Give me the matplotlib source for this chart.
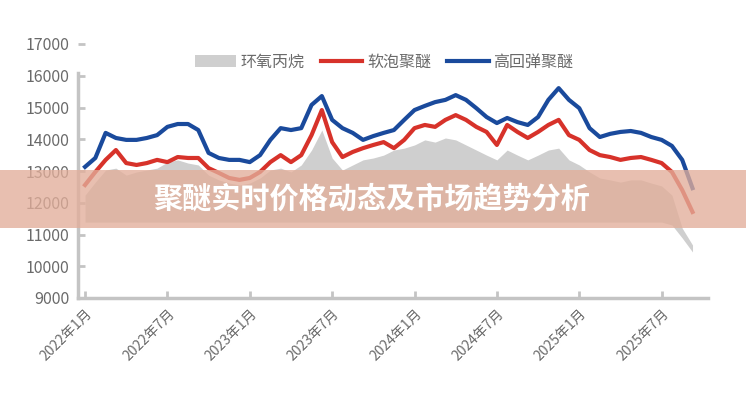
import matplotlib
matplotlib.use("Agg")
import matplotlib.pyplot as plt
from matplotlib.patches import Rectangle

plt.rcParams['font.family'] = ['Noto Sans CJK SC', 'DejaVu Sans']

# series values (元/吨), one value per period
blue_vals = [13130, 13410, 14200, 14040, 13980, 13980, 14040, 14130, 14390, 14480,
             14480, 14290, 13570, 13410, 13350, 13350, 13280, 13500, 13980, 14350,
             14290, 14350, 15080, 15360, 14610, 14350, 14200, 13980, 14100, 14200,
             14290, 14610, 14920, 15050, 15170, 15240, 15390, 15240, 14980, 14700,
             14510, 14670, 14540, 14450, 14700, 15240, 15610, 15240, 14980, 14350,
             14070, 14170, 14230, 14260, 14200, 14070, 13980, 13790, 13350, 12460]
red_vals = [12560, 12970, 13350, 13660, 13250, 13190, 13250, 13350, 13280, 13440,
            13410, 13410, 13090, 12940, 12780, 12720, 12780, 12970, 13280, 13500,
            13280, 13500, 14130, 14920, 13910, 13440, 13600, 13720, 13820, 13910,
            13720, 13980, 14350, 14450, 14390, 14610, 14760, 14610, 14390, 14230,
            13820, 14450, 14230, 14040, 14230, 14450, 14610, 14130, 13980, 13660,
            13500, 13440, 13350, 13410, 13440, 13350, 13250, 12970, 12400, 11710]
gray_high = [12240, 12650, 13030, 13090, 12870, 12970, 13030, 13090, 13280, 13350,
             13250, 13190, 12870, 12720, 12620, 12560, 12620, 12780, 13030, 13090,
             12970, 13190, 13660, 14290, 13410, 13030, 13190, 13350, 13410, 13500,
             13660, 13720, 13820, 13980, 13910, 14040, 13980, 13820, 13660, 13500,
             13350, 13660, 13500, 13350, 13500, 13660, 13720, 13350, 13190, 12970,
             12780, 12720, 12650, 12720, 12720, 12620, 12530, 12240, 11200, 10670]
gray_low = [11390] * 57 + [11300, 10890, 10450]

series_names = ['环氧丙烷', '软泡聚醚', '高回弹聚醚']
tick_pos = [0, 8, 16, 24, 32, 40, 48, 56]
tick_labels = ['2022年1月', '2022年7月', '2023年1月', '2023年7月',
               '2024年1月', '2024年7月', '2025年1月', '2025年7月']
y_ticks = [9000, 10000, 11000, 12000, 13000, 14000, 15000, 16000, 17000]
title_text = '聚醚实时价格动态及市场趋势分析'

x = list(range(len(blue_vals)))

fig = plt.figure(figsize=(7.46, 4.0), dpi=100)
ax = fig.add_axes([0.1046, 0.255, 0.8444, 0.635])

ax.fill_between(x, gray_low, gray_high, color='#cfcfcf', lw=0, label=series_names[0], zorder=1)
ax.plot(x, red_vals, color='#d7322a', lw=3, label=series_names[1], zorder=3)
ax.plot(x, blue_vals, color='#1a4a9c', lw=3, label=series_names[2], zorder=3)

ax.set_xlim(-0.68, 60.5)
ax.set_ylim(9000, 17000)
ax.set_yticks(y_ticks)
ax.set_xticks(tick_pos)
ax.set_xticklabels(tick_labels, rotation=45, ha='right', rotation_mode='anchor')

for side in ['top', 'right']:
    ax.spines[side].set_visible(False)
for side in ['left', 'bottom']:
    ax.spines[side].set_color('#c4c4c4')
    ax.spines[side].set_linewidth(2.5)
ax.spines['left'].set_bounds(9000, 16100)

ax.tick_params(axis='both', direction='in', length=5, width=2, color='#c4c4c4',
               labelcolor='#6a6a6a')
ax.tick_params(axis='y', labelsize=11.5, pad=6)
ax.tick_params(axis='x', labelsize=10, pad=6)

fig.legend(loc='center', bbox_to_anchor=(384 / 746, 1 - 62 / 400), ncol=3,
           frameon=False, fontsize=11.5, handlelength=2.6, handletextpad=0.3,
           columnspacing=1.0, labelcolor='#6a6a6a')

# semi-transparent banner with the title on top
banner = Rectangle((0, 1 - 228 / 400), 1, 58 / 400, transform=fig.transFigure,
                   facecolor=(226 / 255, 174 / 255, 154 / 255), alpha=0.78,
                   edgecolor='none', zorder=5)
fig.add_artist(banner)
fig.text(372 / 746, 1 - 199 / 400, title_text, color='white', fontsize=21,
         fontweight='bold', ha='center', va='center', zorder=6)

fig.savefig('out.png', dpi=100)
